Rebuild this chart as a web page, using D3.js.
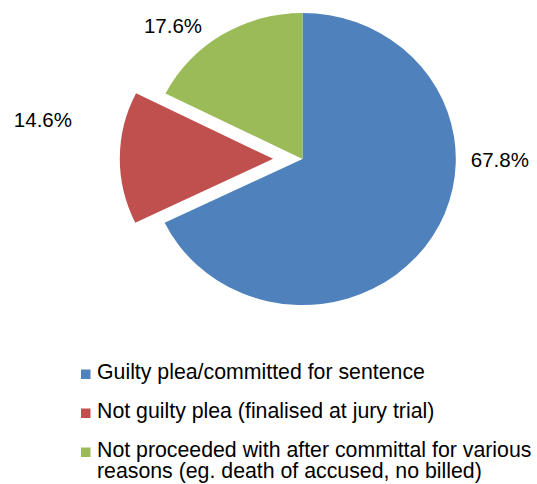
<!DOCTYPE html>
<html>
<head>
<meta charset="utf-8">
<script src="https://cdn.jsdelivr.net/npm/d3@7"></script>
<style>
  body { margin: 0; background: #fff; }
  text { font-family: "Liberation Sans", Arial, sans-serif; fill: #000; }
</style>
</head>
<body>
<svg class="chart" width="537" height="484"></svg>
<script>
const categories = [
  'Guilty plea/committed for sentence',
  'Not guilty plea (finalised at jury trial)',
  'Not proceeded with after committal for various reasons (eg. death of accused, no billed)'
]
const legendLines = [
  ['Guilty plea/committed for sentence'],
  ['Not guilty plea (finalised at jury trial)'],
  ['Not proceeded with after committal for various', 'reasons (eg. death of accused, no billed)']
]
const values = [67.8, 14.6, 17.6]
const colors = ['#4F81BD', '#C0504D', '#9BBB59']
const exploded = [false, true, false]

const svg = d3.select('svg.chart')

const cx = 302.5
const cy = 159
const radius = 146
const stretch = 1.05
const explodeOffset = 28

const pie = d3.pie().sort(null).value(d => d)
const arcs = pie(values)
const arc = d3.arc().innerRadius(0).outerRadius(radius)

const pieG = svg.append('g')
  .attr('transform', `translate(${cx},${cy}) scale(${stretch},1)`)

pieG.selectAll('path.slice')
  .data(arcs)
  .enter().append('path')
  .attr('class', 'slice')
  .attr('fill', (d, i) => colors[i])
  .attr('d', arc)
  .attr('transform', (d, i) => {
    if (!exploded[i]) return null
    const mid = (d.startAngle + d.endAngle) / 2
    return `translate(${Math.sin(mid) * explodeOffset},${-Math.cos(mid) * explodeOffset})`
  })

// Data labels, placed outside the slices
const labelPos = [
  { x: cx + radius * stretch + 15, y: cy + 8, anchor: 'start' },
  { x: 72, y: 127, anchor: 'end' },
  { x: 173, y: 33, anchor: 'middle' }
]
svg.selectAll('text.dataLabel')
  .data(arcs)
  .enter().append('text')
  .attr('class', 'dataLabel')
  .attr('x', (d, i) => labelPos[i].x)
  .attr('y', (d, i) => labelPos[i].y)
  .attr('text-anchor', (d, i) => labelPos[i].anchor)
  .style('font-size', '20.5px')
  .text(d => `${d.data.toFixed(1)}%`)

// Legend
const legendTop = [379, 418, 457]
const legendG = svg.append('g')
legendLines.forEach((lines, i) => {
  legendG.append('rect')
    .attr('x', 81)
    .attr('y', legendTop[i] - 9.5)
    .attr('width', 9.5)
    .attr('height', 9.5)
    .attr('fill', colors[i])
  const t = legendG.append('text')
    .attr('x', 97)
    .attr('y', legendTop[i])
    .style('font-size', '21.3px')
  lines.forEach((line, j) => {
    t.append('tspan')
      .attr('x', 97)
      .attr('dy', j === 0 ? 0 : 21)
      .text(line)
  })
})
</script>
</body>
</html>
